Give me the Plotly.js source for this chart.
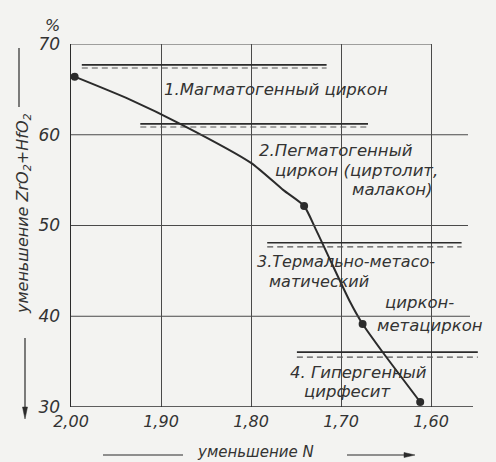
<!DOCTYPE html>
<html>
<head>
<meta charset="utf-8">
<script src="https://cdn.plot.ly/plotly-3.0.1.min.js"></script>
<style>
html,body{margin:0;padding:0;background:#f3f3f1;}
#chart{width:496px;height:462px;}
</style>
</head>
<body>
<div id="chart"></div>
<script>
// ---- data ----
const curveN   = [1.996, 1.935, 1.876, 1.800, 1.764, 1.741, 1.729, 1.712, 1.690, 1.676, 1.653, 1.612];
const curveVal = [66.4, 63.9, 61.07, 56.9, 53.9, 52.15, 49.8, 46.2, 41.6, 39.15, 35.95, 30.55];
const pointN   = [1.996, 1.741, 1.676, 1.612];
const pointVal = [66.4, 52.15, 39.15, 30.55];

const bandSolid  = [67.7, 61.2, 48.1, 36.05];
const bandDashed = [67.35, 60.85, 47.65, 35.5];
const bandStart  = [1.988, 1.923, 1.782, 1.749];
const bandEnd    = [1.716, 1.670, 1.566, 1.548];

const xTickVals = [2.00, 1.90, 1.80, 1.70, 1.60];
const xTickText = ['2,00', '1,90', '1,80', '1,70', '1,60'];
const yTickVals = [30, 40, 50, 60, 70];
const yTickText = ['30', '40', '50', '60', '70'];

// ---- layout geometry (pixels) ----
const W = 496, H = 462;
const L = 71, R = 479, T = 44, B = 407;
const px = (x) => (x - L) / (R - L);
const py = (y) => (B - y) / (B - T);

const ink = '#2b2b2b';
const gridInk = '#4a4a4a';
const bg = '#f3f3f1';
const fam = '"DejaVu Sans", sans-serif';
const ital = {family: fam, size: 16, color: '#333', style: 'italic'};

const traces = [];
for (let i = 0; i < bandSolid.length; i++) {
  traces.push({x: [bandStart[i], bandEnd[i]], y: [bandSolid[i], bandSolid[i]], mode: 'lines',
    line: {color: ink, width: 1.6}, hoverinfo: 'skip', showlegend: false});
  traces.push({x: [bandStart[i], bandEnd[i]], y: [bandDashed[i], bandDashed[i]], mode: 'lines',
    line: {color: '#555', width: 1.1, dash: '6px,4px'}, hoverinfo: 'skip', showlegend: false});
}
traces.push({x: curveN, y: curveVal, mode: 'lines', line: {color: ink, width: 2, shape: 'spline', smoothing: 0.6},
  showlegend: false});
traces.push({x: pointN, y: pointVal, mode: 'markers', marker: {color: ink, size: 8}, showlegend: false});

function txt(text, x, y, extra) {
  return Object.assign({text: text, xref: 'paper', yref: 'paper', x: px(x), y: py(y),
    xanchor: 'left', yanchor: 'middle', showarrow: false, font: Object.assign({}, ital, {size: 16.5})}, extra || {});
}

const annotations = [
  txt('1.Магматогенный циркон', 162, 90),
  txt('2.Пегматогенный', 257, 150),
  txt('циркон (циртолит,', 273, 170),
  txt('малакон)', 350, 189),
  txt('3.Термально-метасо-', 255, 261, {font: Object.assign({}, ital, {size: 16})}),
  txt('матический', 267, 281, {font: Object.assign({}, ital, {size: 16})}),
  txt('циркон-', 383, 302),
  txt('метациркон', 375, 325),
  txt('4. Гипергенный', 288, 372),
  txt('цирфесит', 302, 391),
  txt('%', 52, 26, {xanchor: 'center', font: ital}),
  txt('уменьшение N', 255, 452, {xanchor: 'center', font: Object.assign({}, ital, {size: 15})}),
  txt('уменьшение ZrO<sub>2</sub>+HfO<sub>2</sub>', 24, 214, {xanchor: 'center', textangle: -90,
    font: Object.assign({}, ital, {size: 16})})
];

function tri(pts) {
  return 'M ' + pts.map(p => px(p[0]) + ',' + py(p[1])).join(' L ') + ' Z';
}

const shapes = [
  // horizontal grid lines
  {type: 'line', xref: 'paper', yref: 'y', x0: 0, x1: px(468), y0: 60, y1: 60, line: {color: gridInk, width: 1}},
  {type: 'line', xref: 'paper', yref: 'y', x0: 0, x1: px(468), y0: 50, y1: 50, line: {color: gridInk, width: 1}},
  {type: 'line', xref: 'paper', yref: 'y', x0: 0, x1: px(470), y0: 40, y1: 40, line: {color: gridInk, width: 1}},
  {type: 'line', xref: 'x', yref: 'y', x0: 2.00, x1: 1.60, y0: 70, y1: 70, line: {color: gridInk, width: 1.2}},
  {type: 'line', xref: 'paper', yref: 'y', x0: 0, x1: px(473), y0: 30, y1: 30, line: {color: ink, width: 1.5}},
  // title lines and arrows
  {type: 'line', xref: 'paper', yref: 'paper', x0: px(103), x1: px(183), y0: py(455), y1: py(455), line: {color: ink, width: 1.2}},
  {type: 'line', xref: 'paper', yref: 'paper', x0: px(347), x1: px(406), y0: py(455), y1: py(455), line: {color: ink, width: 1.2}},
  {type: 'path', xref: 'paper', yref: 'paper', path: tri([[404, 452.5], [415, 455], [404, 457.5]]),
    fillcolor: ink, line: {color: ink, width: 0.5}},
  {type: 'line', xref: 'paper', yref: 'paper', x0: px(19), x1: px(19), y0: py(48), y1: py(107), line: {color: ink, width: 1.2}},
  {type: 'line', xref: 'paper', yref: 'paper', x0: px(25), x1: px(25), y0: py(338), y1: py(409), line: {color: ink, width: 1.2}},
  {type: 'path', xref: 'paper', yref: 'paper', path: tri([[22.5, 407], [25, 419], [27.5, 407]]),
    fillcolor: ink, line: {color: ink, width: 0.5}}
];

const layout = {
  width: W, height: H,
  margin: {l: L, r: W - R, t: T, b: H - B},
  paper_bgcolor: bg, plot_bgcolor: bg,
  showlegend: false,
  xaxis: {
    range: [2.00, 2.00 - (R - L) / 900], tickvals: xTickVals, ticktext: xTickText,
    showgrid: true, gridcolor: gridInk, gridwidth: 1, zeroline: false, showline: false,
    ticks: '', tickfont: Object.assign({}, ital, {size: 16}), ticklabelstandoff: 3, fixedrange: true
  },
  yaxis: {
    range: [30, 70], tickvals: yTickVals, ticktext: yTickText,
    showgrid: false, zeroline: false, showline: true, linecolor: ink, linewidth: 1.5,
    ticks: '', tickfont: Object.assign({}, ital, {size: 17}), ticklabelstandoff: 6, fixedrange: true
  },
  annotations: annotations,
  shapes: shapes
};

Plotly.newPlot('chart', traces, layout, {staticPlot: true, displayModeBar: false});
</script>
</body>
</html>
